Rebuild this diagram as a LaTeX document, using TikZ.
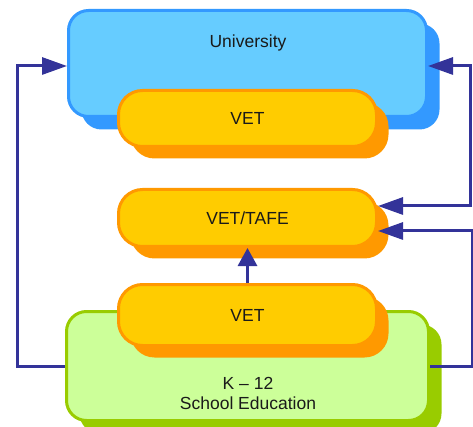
\documentclass[tikz,border=0pt]{standalone}
\usepackage{fontspec}
\newfontfamily\labelfont{Liberation Sans}
\usetikzlibrary{arrows.meta,shadows}
\definecolor{uniFill}{HTML}{66CCFF}
\definecolor{uniEdge}{HTML}{3399FF}
\definecolor{vetFill}{HTML}{FFCC00}
\definecolor{vetEdge}{HTML}{FF9900}
\definecolor{kFill}{HTML}{CCFF99}
\definecolor{kEdge}{HTML}{99CC00}
\definecolor{connCol}{HTML}{333399}
\definecolor{txtCol}{HTML}{1A1A1A}
\tikzset{
  box/.style={rectangle, line width=3pt, inner sep=0pt, font=\labelfont\fontsize{17.5}{20}\selectfont, text=txtCol},
  unibox/.style={box, draw=uniEdge, fill=uniFill, rounded corners=20pt,
    minimum width=358pt, minimum height=106pt,
    drop shadow={shadow xshift=13pt, shadow yshift=-13pt, fill=uniEdge, opacity=1}},
  vetbox/.style={box, draw=vetEdge, fill=vetFill, rounded corners=24pt,
    minimum width=258pt,
    drop shadow={shadow xshift=12pt, shadow yshift=-12pt, fill=vetEdge, opacity=1}},
  kbox/.style={box, draw=kEdge, fill=kFill, rounded corners=20pt,
    minimum width=362pt, minimum height=109pt,
    drop shadow={shadow xshift=13pt, shadow yshift=-13pt, fill=kEdge, opacity=1}},
  txt/.style={font=\labelfont\fontsize{17.5}{20}\selectfont, text=txtCol, inner sep=0pt, align=center},
  conn/.style={draw=connCol, line width=3pt, -{Triangle[length=25pt, width=17pt]}},
  both/.style={{Triangle[length=25pt, width=17pt]}-{Triangle[length=25pt, width=17pt]}},
  upconn/.style={draw=connCol, line width=3pt, -{Triangle[length=18pt, width=19pt]}}
}
\begin{document}
\begin{tikzpicture}[x=1pt, y=-1pt]
\useasboundingbox (0,0) rectangle (473,427);
% boxes
\node[unibox] (uni) at (247.5,63.5) {};
\node[txt, anchor=base] (unitxt) at (248,48) {University};
\node[vetbox, minimum height=56pt] (vet1) at (247.5,118.5) {VET};
\node[vetbox, minimum height=57pt] (tafe) at (247.5,218) {VET/TAFE};
\node[kbox] (k12) at (247.5,366) {};
\node[txt] (k12txt) at (248,393) {K – 12\\School Education};
\node[vetbox, minimum height=61pt] (vet2) at (247.5,315) {VET};
% helper coordinates
\coordinate (ul) at (17,66);
\coordinate (ur) at (470,66);
\coordinate (r1) at (470,206);
\coordinate (r2) at (472,231);
% connectors
\draw[conn] (k12.west) -| (ul) -- (uni.west |- ul);
\draw[conn, both] (uni.east |- ur) -- (ur) -- (r1) -- (tafe.east |- r1);
\draw[conn] (k12.east) -| (r2) -- (tafe.east |- r2);
\draw[upconn] (vet2.north) -- (tafe.south);
\end{tikzpicture}
\end{document}
